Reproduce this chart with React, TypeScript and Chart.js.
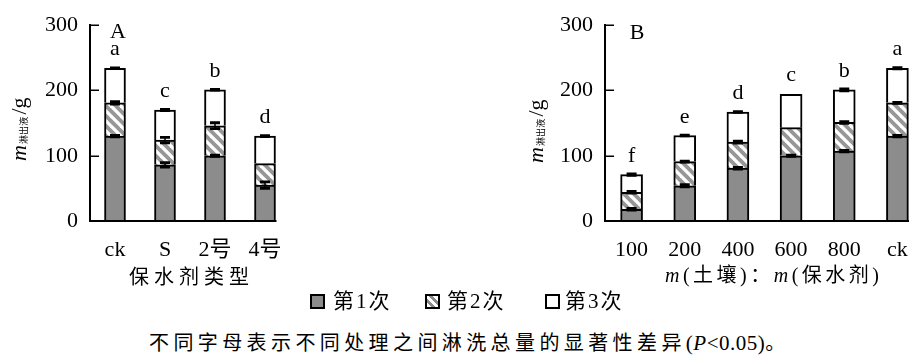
import React, { useEffect, useRef } from 'react';
import { Chart, registerables } from 'chart.js';

Chart.register(...registerables);

// ---------- data ----------
const seriesNames = ['第1次', '第2次', '第3次'];
const yTickValues = [0, 100, 200, 300];

const catsA = ['ck', 'S', '2号', '4号'];
const firstA = [130, 86, 100, 55];
const secondA = [51, 38, 46, 33];
const thirdA = [53, 46, 55, 42];
const errFirstA = [1, 3.3, 1, 4.8];
const errSecondA = [1.8, 4.2, 4.5, 0];
const errThirdA = [0.6, 1, 0.6, 0.6];
const lettersA = ['a', 'c', 'b', 'd'];

const catsB = ['100', '200', '400', '600', '800', 'ck'];
const firstB = [18, 54, 81, 100, 107, 130];
const secondB = [26, 37, 40, 43, 44, 51];
const thirdB = [27, 40, 46, 51, 50, 53];
const errFirstB = [1.2, 1.8, 1.3, 0.8, 1.2, 1];
const errSecondB = [1.2, 0.6, 1.5, 0, 1.2, 0.8];
const errThirdB = [1.2, 0.6, 0.6, 0, 1.5, 0.8];
const lettersB = ['f', 'e', 'd', 'c', 'b', 'a'];

const FONT = "'Liberation Serif', 'Noto Sans CJK SC', serif";
const GRAY = '#8c8c8c';

function makeHatch(): CanvasPattern | string {
  const c = document.createElement('canvas');
  const s = 10;
  c.width = s;
  c.height = s;
  const g = c.getContext('2d');
  if (!g) return '#ccc';
  g.fillStyle = '#fff';
  g.fillRect(0, 0, s, s);
  g.strokeStyle = '#979797';
  g.lineWidth = 3.8;
  for (const o of [-s, 0, s]) {
    g.beginPath();
    g.moveTo(o - 2, -2);
    g.lineTo(o + s + 2, s + 2);
    g.stroke();
  }
  return g.createPattern(c, 'repeat') || '#ccc';
}

interface PanelCfg {
  cats: string[];
  first: number[];
  second: number[];
  third: number[];
  errs: number[][];
  letters: string[];
  panel: string;
  panelX: number;
  panelY: number;
  titleX: number;
  titleY: number;
  axisLeft: number;
  padRight: number;
  barW: number;
  axisToLastBar: boolean;
}

function makePlugin(p: PanelCfg) {
  return {
    id: 'decor' + p.panel,
    afterDatasetsDraw(chart: any) {
      const ctx = chart.ctx as CanvasRenderingContext2D;
      const ys = chart.scales.y;
      const area = chart.chartArea;
      ctx.save();
      // bottom axis line
      let endX = area.right;
      if (p.axisToLastBar) {
        const meta = chart.getDatasetMeta(0);
        const el = meta.data[meta.data.length - 1];
        endX = el.x + el.width / 2 + 1;
      }
      ctx.strokeStyle = '#000';
      ctx.lineWidth = 2;
      ctx.beginPath();
      ctx.moveTo(area.left - 1, area.bottom);
      ctx.lineTo(endX, area.bottom);
      ctx.stroke();
      // inward ticks
      ctx.lineWidth = 1.5;
      yTickValues.forEach((v) => {
        if (v === 0) return;
        const yy = Math.round(ys.getPixelForValue(v)) + 0.25;
        ctx.beginPath();
        ctx.moveTo(area.left, yy);
        ctx.lineTo(area.left + 9, yy);
        ctx.stroke();
      });
      // error bars
      const sets = [p.first, p.second, p.third];
      p.errs.forEach((errArr, di) => {
        const meta = chart.getDatasetMeta(di);
        meta.data.forEach((el: any, i: number) => {
          const e = errArr[i];
          if (!e) return;
          let top = 0;
          for (let k = 0; k <= di; k++) top += sets[k][i];
          const y1 = ys.getPixelForValue(top + e);
          const y2 = ys.getPixelForValue(top - e);
          const x = el.x;
          ctx.lineWidth = 1.5;
          ctx.beginPath();
          ctx.moveTo(x, y1);
          ctx.lineTo(x, y2);
          ctx.stroke();
          ctx.lineWidth = 2.8;
          ctx.beginPath();
          ctx.moveTo(x - 5, y1);
          ctx.lineTo(x + 5, y1);
          ctx.moveTo(x - 5, y2);
          ctx.lineTo(x + 5, y2);
          ctx.stroke();
        });
      });
      // significance letters
      ctx.fillStyle = '#000';
      ctx.font = `22px ${FONT}`;
      ctx.textAlign = 'center';
      ctx.textBaseline = 'alphabetic';
      const meta3 = chart.getDatasetMeta(2);
      p.letters.forEach((L, i) => {
        const total = p.first[i] + p.second[i] + p.third[i];
        const yTop = ys.getPixelForValue(total);
        ctx.fillText(L, meta3.data[i].x, yTop - 13);
      });
      // panel label
      ctx.textBaseline = 'middle';
      ctx.fillText(p.panel, p.panelX, p.panelY);
      // y title (rotated)
      ctx.translate(p.titleX, p.titleY);
      ctx.rotate(-Math.PI / 2);
      ctx.textAlign = 'left';
      ctx.textBaseline = 'alphabetic';
      ctx.font = `italic 22px ${FONT}`;
      ctx.fillText('m', 0, 0);
      let w = ctx.measureText('m').width + 1;
      ctx.font = "9px 'Noto Sans CJK SC'";
      for (const ch of '淋出液') {
        ctx.fillText(ch, w, 1);
        w += 9.2;
      }
      w += 2;
      ctx.font = `22px ${FONT}`;
      ctx.fillText('/g', w, 0);
      ctx.restore();
    },
  };
}

function build(canvas: HTMLCanvasElement, p: PanelCfg) {
  const hatch = makeHatch();
  const common = { borderColor: '#000', borderWidth: 2, barThickness: p.barW };
  return new Chart(canvas, {
    type: 'bar',
    data: {
      labels: p.cats,
      datasets: [
        { label: seriesNames[0], data: p.first, backgroundColor: GRAY, ...common },
        { label: seriesNames[1], data: p.second, backgroundColor: hatch as any, ...common },
        { label: seriesNames[2], data: p.third, backgroundColor: '#fff', ...common },
      ],
    },
    options: {
      animation: false,
      responsive: false,
      devicePixelRatio: 1,
      layout: { padding: { left: 0, top: 22, right: p.padRight, bottom: 0 } },
      plugins: { legend: { display: false }, tooltip: { enabled: false } },
      scales: {
        x: {
          stacked: true,
          grid: { display: false, drawTicks: false },
          border: { display: false },
          ticks: { font: { family: FONT, size: 22 }, color: '#000', padding: 16, maxRotation: 0, autoSkip: false },
          afterFit: (s: any) => {
            s.height = 79;
          },
        },
        y: {
          stacked: true,
          min: 0,
          max: 300,
          grid: { display: false, drawTicks: false },
          border: { display: true, color: '#000', width: 2 },
          ticks: { font: { family: FONT, size: 22 }, color: '#000', padding: 12 },
          afterBuildTicks: (s: any) => {
            s.ticks = yTickValues.map((v) => ({ value: v }));
          },
          afterFit: (s: any) => {
            s.width = p.axisLeft;
          },
        },
      },
    } as any,
    plugins: [makePlugin(p)],
  });
}

const cfgA: PanelCfg = {
  cats: catsA,
  first: firstA,
  second: secondA,
  third: thirdA,
  errs: [errFirstA, errSecondA, errThirdA],
  letters: lettersA,
  panel: 'A',
  panelX: 118,
  panelY: 32,
  titleX: 26,
  titleY: 161,
  axisLeft: 90,
  padRight: 10,
  barW: 21,
  axisToLastBar: true,
};

const cfgB: PanelCfg = {
  cats: catsB,
  first: firstB,
  second: secondB,
  third: thirdB,
  errs: [errFirstB, errSecondB, errThirdB],
  letters: lettersB,
  panel: 'B',
  panelX: 197,
  panelY: 33,
  titleX: 103,
  titleY: 163,
  axisLeft: 165,
  padRight: 6,
  barW: 22,
  axisToLastBar: false,
};

const abs = (x: number, y: number, extra: React.CSSProperties = {}): React.CSSProperties => ({
  position: 'absolute',
  left: x,
  top: y,
  transform: 'translate(-50%, -50%)',
  whiteSpace: 'nowrap',
  lineHeight: 1,
  fontFamily: FONT,
  color: '#000',
  ...extra,
});

const swatch = (x: number, bg: string): React.CSSProperties => ({
  position: 'absolute',
  left: x,
  top: 294,
  width: 15,
  height: 15,
  boxSizing: 'border-box',
  border: '2px solid #000',
  background: bg,
});

export default function App() {
  const refA = useRef<HTMLCanvasElement>(null);
  const refB = useRef<HTMLCanvasElement>(null);
  useEffect(() => {
    const a = refA.current ? build(refA.current, cfgA) : null;
    const b = refB.current ? build(refB.current, cfgB) : null;
    return () => {
      a?.destroy();
      b?.destroy();
    };
  }, []);
  const legendText = (x: number): React.CSSProperties => ({
    position: 'absolute',
    left: x,
    top: 291,
    fontSize: 21,
    lineHeight: '21px',
    letterSpacing: 2,
    fontFamily: FONT,
    whiteSpace: 'nowrap',
    color: '#000',
  });
  return (
    <div
      style={{
        position: 'fixed',
        left: 0,
        top: 0,
        width: 909,
        height: 358,
        overflow: 'hidden',
        background: '#fff',
      }}
    >
      <canvas ref={refA} width={300} height={300} style={{ position: 'absolute', left: 0, top: 0, width: 300, height: 300 }} />
      <canvas ref={refB} width={490} height={300} style={{ position: 'absolute', left: 440, top: 0, width: 490, height: 300 }} />
      <div style={abs(189, 277, { fontSize: 20, letterSpacing: 5, paddingLeft: 5 })}>保水剂类型</div>
      <div style={abs(772, 275, { fontSize: 20, letterSpacing: 3.5, paddingLeft: 3.5 })}>
        <i>m</i>(土壤)：<i>m</i>(保水剂)
      </div>
      <div style={swatch(310, GRAY)} />
      <div style={legendText(333)}>{seriesNames[0]}</div>
      <div
        style={swatch(
          425,
          'repeating-linear-gradient(45deg, #fff 0px, #fff 3px, #8a8a8a 3px, #8a8a8a 6px)'
        )}
      />
      <div style={legendText(447)}>{seriesNames[1]}</div>
      <div style={swatch(545, '#fff')} />
      <div style={legendText(565)}>{seriesNames[2]}</div>
      <div
        style={{
          position: 'absolute',
          left: 149,
          top: 333,
          fontSize: 20,
          lineHeight: '20px',
          fontFamily: FONT,
          whiteSpace: 'nowrap',
          color: '#000',
        }}
      >
        <span style={{ letterSpacing: 4.4 }}>不同字母表示不同处理之间淋洗总量的显著性差异</span>
        <span style={{ fontSize: 21, letterSpacing: 0.5 }}>
          (<i>P</i>
          {'<'}0.05)
        </span>
        <span>。</span>
      </div>
    </div>
  );
}
